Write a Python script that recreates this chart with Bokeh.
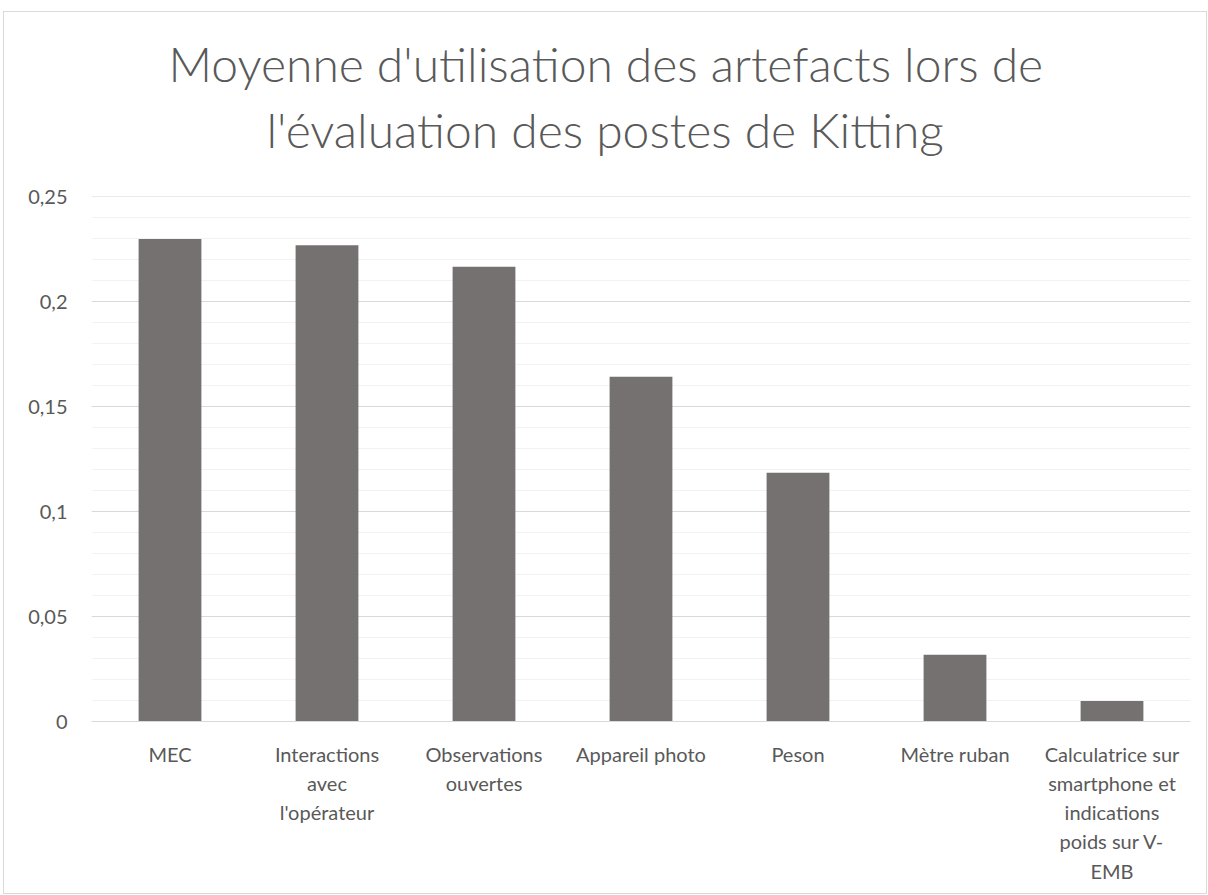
from bokeh.plotting import figure
from bokeh.models import Range1d, FixedTicker, CustomJSTickFormatter, Title
from bokeh.embed import file_html
from bokeh.resources import INLINE

categories = [
    "MEC",
    "Interactions\navec\nl'opérateur",
    "Observations\nouvertes",
    "Appareil photo",
    "Peson",
    "Mètre ruban",
    "Calculatrice sur\nsmartphone et\nindications\npoids sur V-\nEMB",
]
values = [0.230, 0.227, 0.2167, 0.1643, 0.1185, 0.0318, 0.0098]
y_major = [0, 0.05, 0.1, 0.15, 0.2, 0.25]
y_minor = [i / 100 for i in range(0, 26)]
title_lines = ["Moyenne d'utilisation des artefacts lors de",
               "l'évaluation des postes de Kitting"]

FONT = "Lato"
TITLE_FONT = "'Lato Light', Lato"
GREY = "#595959"

xs = list(range(len(categories)))

p = figure(width=1204, height=883, output_backend="svg", toolbar_location=None,
           x_range=Range1d(-0.5, len(categories) - 0.5), y_range=Range1d(0, 0.2502),
           min_border_left=87, min_border_right=18, min_border_top=184, min_border_bottom=174)

p.vbar(x=xs, top=values, width=0.4, bottom=0, fill_color="#767171", line_color=None)

# title: two lines, second line nearest to the frame
p.add_layout(Title(text=title_lines[1], align="left", offset=175, standoff=78,
                   text_font=TITLE_FONT, text_font_size="48px", text_font_style="normal",
                   text_color=GREY), "above")
p.add_layout(Title(text=title_lines[0], align="left", offset=77, standoff=-64,
                   text_font=TITLE_FONT, text_font_size="48px", text_font_style="normal",
                   text_color=GREY), "above")

p.outline_line_color = None
p.background_fill_color = "white"
p.border_fill_color = "white"
p.styles = {"border": "1px solid #d9d9d9", "box-sizing": "border-box",
            "margin-left": "3px", "margin-top": "11px"}

# x axis
p.xaxis.ticker = FixedTicker(ticks=xs)
p.xaxis.major_label_overrides = {i: c for i, c in zip(xs, categories)}
p.xaxis.axis_line_color = "#d9d9d9"
p.xaxis.major_tick_line_color = None
p.xaxis.minor_tick_line_color = None
p.xaxis.major_label_text_font = FONT
p.xaxis.major_label_text_font_size = "20px"
p.xaxis.major_label_text_color = GREY
p.xaxis.major_label_text_line_height = 1.22
p.xaxis.major_label_standoff = 14
p.xgrid.grid_line_color = None

# y axis
p.yaxis.ticker = FixedTicker(ticks=y_major, minor_ticks=y_minor)
p.yaxis.formatter = CustomJSTickFormatter(code="return (Math.round(tick*100)/100).toString().replace('.', ',');")
p.yaxis.axis_line_color = None
p.yaxis.major_tick_line_color = None
p.yaxis.minor_tick_line_color = None
p.yaxis.major_label_text_font = FONT
p.yaxis.major_label_text_font_size = "20px"
p.yaxis.major_label_text_color = GREY
p.yaxis.major_label_standoff = 18
p.ygrid.grid_line_color = "#d9d9d9"
p.ygrid.minor_grid_line_color = "#f2f2f2"

open("out.html", "w").write(file_html(p, INLINE))
